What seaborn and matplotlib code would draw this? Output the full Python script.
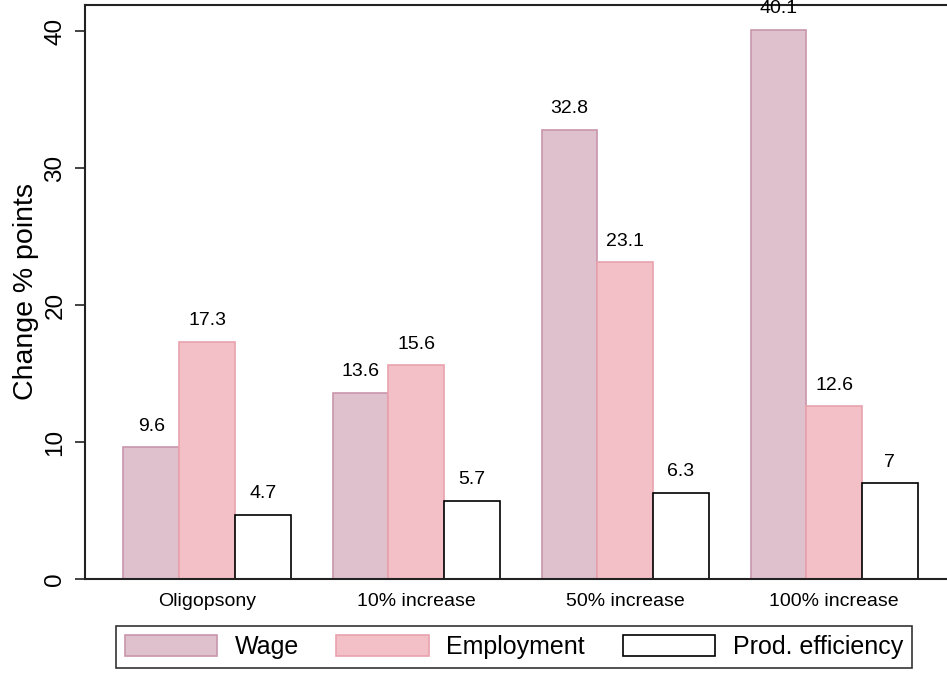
import pandas as pd
import matplotlib.pyplot as plt
import seaborn as sns

# dados
cenarios = ["Oligopsony", "10% increase", "50% increase", "100% increase"]
wage = [9.6, 13.6, 32.8, 40.1]
employment = [17.3, 15.6, 23.1, 12.6]
prod_eff = [4.7, 5.7, 6.3, 7.0]
series = ["Wage", "Employment", "Prod. efficiency"]
labels_valores = [["9.6", "13.6", "32.8", "40.1"],
                  ["17.3", "15.6", "23.1", "12.6"],
                  ["4.7", "5.7", "6.3", "7"]]

cores = ["#dfc1ce", "#f2c0c6", "#ffffff"]
bordas = ["#c995ab", "#e9a2ad", "#000000"]


def main():
    df = pd.DataFrame({
        "cenario": cenarios * 3,
        "serie": [s for s in series for _ in cenarios],
        "valor": wage + employment + prod_eff,
    })

    sns.set_theme(style="white")
    plt.rcParams['font.family'] = ['Liberation Sans', 'DejaVu Sans']
    plt.rcParams['text.color'] = 'black'
    plt.rcParams['axes.labelcolor'] = 'black'
    plt.rcParams['xtick.color'] = 'black'
    plt.rcParams['ytick.color'] = 'black'

    fig = plt.figure(figsize=(9.47, 6.73), dpi=100)
    ax = fig.add_axes([0.0898, 0.1397, 0.9102, 0.853])

    sns.barplot(data=df, x="cenario", y="valor", hue="serie", order=cenarios,
                hue_order=series, palette=cores, width=0.8, saturation=1,
                ax=ax, legend=False)

    for cont, borda, txts in zip(ax.containers, bordas, labels_valores):
        for barra in cont:
            barra.set_edgecolor(borda)
            barra.set_linewidth(1.2)
        ax.bar_label(cont, labels=txts, padding=9, fontsize=14, color="black")

    ax.set_xlim(-0.584, 3.54)
    ax.set_ylim(0, 41.9)
    ax.set_yticks([0, 10, 20, 30, 40])
    ax.set_xlabel("")
    ax.set_ylabel("Change % points", fontsize=20.5, labelpad=4)
    ax.tick_params(axis='y', left=True, length=7.5, width=1.2, labelsize=17.5,
                   labelrotation=90, pad=6, color="#222222")
    ax.tick_params(axis='x', bottom=False, labelsize=14, pad=4)
    for lab in ax.get_yticklabels():
        lab.set_va('center')

    for lado in ["left", "bottom", "top"]:
        ax.spines[lado].set_color("#222222")
        ax.spines[lado].set_linewidth(1.5)
    ax.spines["right"].set_visible(False)

    handles = [plt.Rectangle((0, 0), 1, 1, facecolor=c, edgecolor=b, linewidth=1.2)
               for c, b in zip(cores, bordas)]
    leg = fig.legend(handles, series, loc="lower center", bbox_to_anchor=(0.5425, 0.0),
                     ncol=3, fontsize=18, frameon=True, fancybox=False,
                     handlelength=3.7, handleheight=0.95, columnspacing=1.5,
                     handletextpad=0.7, borderpad=0.35, borderaxespad=0.2)
    leg.get_frame().set_edgecolor("black")
    leg.get_frame().set_linewidth(1.2)

    fig.savefig("out.png", dpi=100)
    plt.close(fig)


if __name__ == "__main__":
    main()
